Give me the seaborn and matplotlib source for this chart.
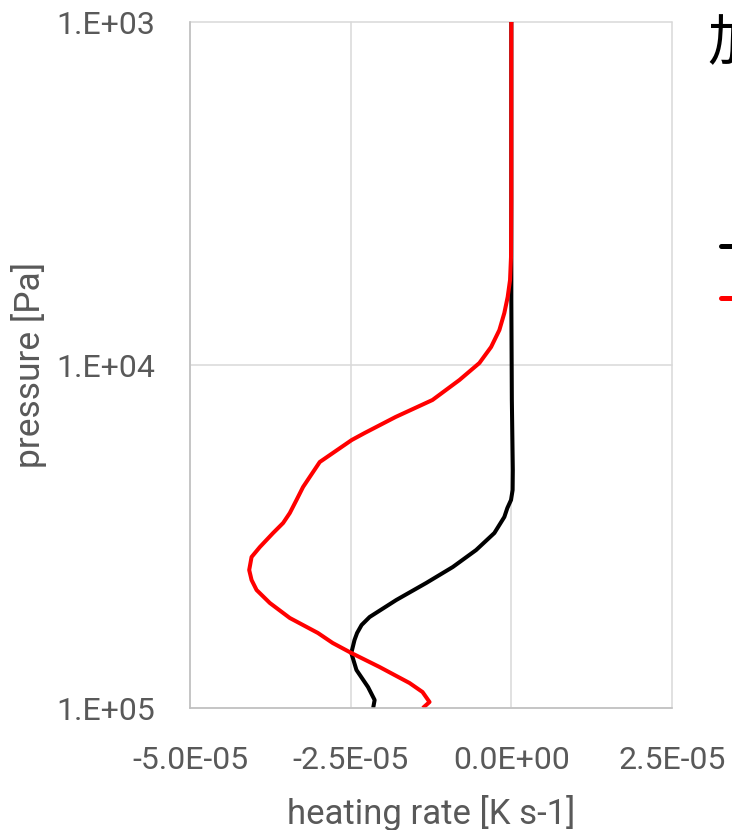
import matplotlib
matplotlib.use("Agg")
import matplotlib.pyplot as plt
import matplotlib.ticker as mticker
import seaborn as sns
import pandas as pd

# ---- data ----
pressure_black = [1000, 3304, 6463, 12647, 20240, 23140, 24753, 26120, 27740, 30890,
                  34630, 38810, 43210, 48430, 54290, 57280, 60430, 63340, 69130, 77480,
                  86870, 94780, 100000]
heating_black = [0.0, 0.0, 0.0, 0.08e-6, 0.23e-6, 0.20e-6, -0.05e-6, -0.62e-6, -1.09e-6, -2.64e-6,
                 -5.48e-6, -9.11e-6, -13.25e-6, -17.90e-6, -22.05e-6, -23.30e-6, -24.00e-6, -24.40e-6, -24.90e-6, -24.10e-6,
                 -22.30e-6, -21.27e-6, -21.50e-6]

pressure_red = [1000, 3304, 4843, 5651, 6336, 7054, 7907, 8862, 9867, 11058,
                12647, 14176, 15788, 16548, 19179, 21210, 22685, 24753, 27010, 28880,
                30890, 33940, 36290, 39600, 42350, 45290, 49410, 54650, 60430, 64630,
                69130, 75950, 84560, 89830, 96050, 100000]
heating_red = [0.0, 0.0, -0.05e-6, -0.20e-6, -0.57e-6, -1.09e-6, -1.86e-6, -3.15e-6, -4.97e-6, -8.07e-6,
               -12.27e-6, -18.01e-6, -22.83e-6, -24.84e-6, -29.81e-6, -31.37e-6, -32.41e-6, -33.43e-6, -34.47e-6, -35.51e-6,
               -37.07e-6, -39.13e-6, -40.42e-6, -40.79e-6, -40.42e-6, -39.64e-6, -37.58e-6, -34.47e-6, -30.10e-6, -27.80e-6,
               -24.89e-6, -20.50e-6, -15.84e-6, -13.82e-6, -12.73e-6, -13.77e-6]

series_names = ["系列1", "系列2"]
series_colors = ["#000000", "#ff0000"]

x_ticks = [-5.0e-5, -2.5e-5, 0.0, 2.5e-5]
x_tick_labels = ["-5.0E-05", "-2.5E-05", "0.0E+00", "2.5E-05"]
y_ticks = [1e3, 1e4, 1e5]
y_tick_labels = ["1.E+03", "1.E+04", "1.E+05"]

x_label = "heating rate [K s-1]"
y_label = "pressure [Pa]"
title_text = "加熱率"

# ---- build long table ----
df = pd.concat([
    pd.DataFrame({"pressure": pressure_black, "heating": heating_black, "series": series_names[0]}),
    pd.DataFrame({"pressure": pressure_red, "heating": heating_red, "series": series_names[1]}),
], ignore_index=True)

sns.set_theme(style="white")
plt.rcParams["font.family"] = ["Roboto", "Noto Sans CJK JP", "DejaVu Sans"]

W, H = 732, 830
fig = plt.figure(figsize=(W / 100, H / 100), dpi=100)
ax = fig.add_axes([190 / W, 1 - 708 / H, 482 / W, 686 / H])

sns.lineplot(data=df, x="heating", y="pressure", hue="series", sort=False,
             estimator=None, palette=series_colors, linewidth=2.9, ax=ax,
             legend=False, solid_joinstyle="round", solid_capstyle="butt")

ax.set_yscale("log")
ax.set_xlim(-5e-5, 2.5e-5)
ax.set_ylim(1e5, 1e3)

ax.set_xticks(x_ticks)
ax.set_xticklabels(x_tick_labels)
ax.set_yticks(y_ticks)
ax.set_yticklabels(y_tick_labels)
ax.yaxis.set_minor_locator(mticker.NullLocator())
ax.xaxis.set_minor_locator(mticker.NullLocator())

txt_color = "#595959"
ax.tick_params(axis="both", length=0, labelsize=23, labelcolor=txt_color)
ax.tick_params(axis="y", pad=25)
ax.tick_params(axis="x", pad=27)

ax.grid(True, which="major", color="#d9d9d9", linewidth=1.1)
for gl in ax.get_xgridlines() + ax.get_ygridlines():
    gl.set_clip_on(False)
ax.set_axisbelow(True)

for s in ["top", "right"]:
    ax.spines[s].set_visible(False)
for s in ["left", "bottom"]:
    ax.spines[s].set_color("#bfbfbf")
    ax.spines[s].set_linewidth(1.1)

ax.set_xlabel(x_label, fontsize=25, color=txt_color, labelpad=15)
ax.set_ylabel(y_label, fontsize=25.5, color=txt_color, labelpad=7)

# title-like text at the right (cut off by figure edge)
fig.text(707 / W, 1 - 44 / H, title_text, fontsize=40, color="#000000",
         va="center", ha="left", family=["Noto Sans CJK JP", "DejaVu Sans"])

# legend (mostly outside the figure)
handles = [plt.Line2D([], [], color=c, linewidth=3.6) for c in series_colors]
leg = fig.legend(handles, series_names, loc="upper left",
                 bbox_to_anchor=(721 / W, 1 - 232 / H), bbox_transform=fig.transFigure,
                 frameon=False, borderpad=0, borderaxespad=0, handlelength=2.0,
                 handletextpad=0.5, labelspacing=0.625,
                 prop={"family": ["Noto Sans CJK JP", "DejaVu Sans"], "size": 23})

fig.savefig("out.png", dpi=100)
